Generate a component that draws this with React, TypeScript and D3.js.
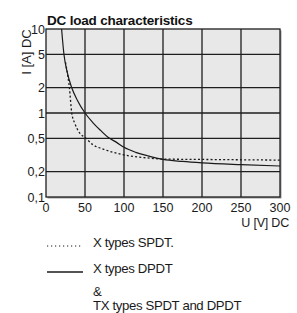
import { useEffect, useRef } from "react";
import { select, scaleLinear, scaleLog, line, curveMonotoneX } from "d3";

// voltage / current readings from the datasheet curve
const dpdtU = [20, 23, 27, 33, 40, 50, 60, 70, 80, 90, 100, 115, 130, 150, 175, 200, 250, 300];
const dpdtI = [10, 5, 3.1, 2, 1.43, 1, 0.77, 0.62, 0.51, 0.45, 0.39, 0.34, 0.31, 0.28, 0.265, 0.255, 0.243, 0.234];

const spdtU = [25, 28, 30, 33, 37, 42, 51, 60, 74, 100, 125, 150, 200, 300];
const spdtI = [4, 2.75, 2, 1, 0.75, 0.6, 0.5, 0.42, 0.37, 0.317, 0.295, 0.283, 0.28, 0.275];

const xTicks = [0, 50, 100, 150, 200, 250, 300];
const yTicks = [0.1, 0.2, 0.5, 1, 2, 5, 10];
const yTickLabels = ["0,1", "0,2", "0,5", "1", "2", "5", "10"];

const legendItems = [
    { label: ["X types SPDT."], dashed: true },
    { label: ["X types DPDT", "&", "TX types SPDT and DPDT"], dashed: false },
];

const W = 297;
const H = 313;
const font = "'Liberation Sans', Arial, sans-serif";

export default function App() {
    const svgRef = useRef<SVGSVGElement>(null);

    useEffect(() => {
        const svg = select(svgRef.current);
        svg.selectAll("*").remove();

        const left = 46;
        const right = 280;
        const top = 29;
        const bottom = 197;

        const x = scaleLinear().domain([0, 300]).range([left, right]);
        const y = scaleLog().domain([0.1, 10]).range([bottom, top]);

        // plot background + soft shadow edge
        svg.append("rect")
            .attr("x", left + 1.5)
            .attr("y", top + 1.5)
            .attr("width", right - left)
            .attr("height", bottom - top)
            .attr("fill", "#9a9a9a");
        svg.append("rect")
            .attr("x", left)
            .attr("y", top)
            .attr("width", right - left)
            .attr("height", bottom - top)
            .attr("fill", "#e8e8e8");

        // grid
        const grid = svg.append("g").attr("stroke", "#1e1e1e").attr("stroke-width", 1.3);
        grid.selectAll("line.v")
            .data(xTicks.slice(1, -1))
            .join("line")
            .attr("class", "v")
            .attr("x1", (d) => x(d))
            .attr("x2", (d) => x(d))
            .attr("y1", top)
            .attr("y2", bottom);
        grid.selectAll("line.h")
            .data(yTicks.slice(1, -1))
            .join("line")
            .attr("class", "h")
            .attr("x1", left)
            .attr("x2", right)
            .attr("y1", (d) => y(d))
            .attr("y2", (d) => y(d));

        svg.append("rect")
            .attr("x", left)
            .attr("y", top)
            .attr("width", right - left)
            .attr("height", bottom - top)
            .attr("fill", "none")
            .attr("stroke", "#1e1e1e")
            .attr("stroke-width", 1.3);

        // curves
        const lineGen = line<[number, number]>()
            .x((d) => x(d[0]))
            .y((d) => y(d[1]))
            .curve(curveMonotoneX);

        svg.append("path")
            .datum(dpdtU.map((u, i) => [u, dpdtI[i]] as [number, number]))
            .attr("fill", "none")
            .attr("stroke", "#1a1a1a")
            .attr("stroke-width", 1.2)
            .attr("d", lineGen);

        svg.append("path")
            .datum(spdtU.map((u, i) => [u, spdtI[i]] as [number, number]))
            .attr("fill", "none")
            .attr("stroke", "#1a1a1a")
            .attr("stroke-width", 1.3)
            .attr("stroke-dasharray", "2,2.2")
            .attr("d", lineGen);

        // tick labels
        svg.append("g")
            .selectAll("text")
            .data(xTicks)
            .join("text")
            .attr("x", (d) => x(d))
            .attr("y", 212)
            .attr("text-anchor", "middle")
            .attr("font-family", font)
            .attr("font-size", 12.5)
            .attr("fill", "#1a1a1a")
            .text((d) => d);

        svg.append("g")
            .selectAll("text")
            .data(yTicks)
            .join("text")
            .attr("x", 45)
            .attr("y", (d) => y(d))
            .attr("dy", "0.36em")
            .attr("text-anchor", "end")
            .attr("font-family", font)
            .attr("font-size", 12.5)
            .attr("fill", "#1a1a1a")
            .text((_d, i) => yTickLabels[i]);

        // titles
        svg.append("text")
            .attr("x", 47)
            .attr("y", 25)
            .attr("font-family", font)
            .attr("font-weight", "bold")
            .attr("font-size", 13.5)
            .attr("letter-spacing", -0.2)
            .attr("fill", "#111")
            .text("DC load characteristics");

        svg.append("text")
            .attr("transform", `translate(31,52) rotate(-90)`)
            .attr("text-anchor", "middle")
            .attr("font-family", font)
            .attr("font-size", 13)
            .attr("fill", "#1a1a1a")
            .text("I [A] DC");

        svg.append("text")
            .attr("x", 289)
            .attr("y", 227)
            .attr("text-anchor", "end")
            .attr("font-family", font)
            .attr("font-size", 12.5)
            .attr("letter-spacing", -0.2)
            .attr("fill", "#1a1a1a")
            .text("U [V] DC");

        // legend
        const legendY = [246, 272];
        legendItems.forEach((item, i) => {
            const g = svg.append("g").attr("transform", `translate(0,${legendY[i]})`);
            g.append("line")
                .attr("x1", 47)
                .attr("x2", 83)
                .attr("y1", 0)
                .attr("y2", 0)
                .attr("stroke", "#1a1a1a")
                .attr("stroke-width", item.dashed ? 1.2 : 1.3)
                .attr("stroke-dasharray", item.dashed ? "1.2,2.8" : null);
            item.label.forEach((t, j) => {
                g.append("text")
                    .attr("x", 93)
                    .attr("y", j === 0 ? 1 : 24 + (j - 1) * 14)
                    .attr("font-family", font)
                    .attr("font-size", 13.2)
                    .attr("letter-spacing", -0.35)
                    .attr("fill", "#1a1a1a")
                    .text(t);
            });
        });
    }, []);

    return (
        <svg
            ref={svgRef}
            width={W}
            height={H}
            style={{ position: "absolute", left: 0, top: 0, background: "#fff" }}
        />
    );
}
